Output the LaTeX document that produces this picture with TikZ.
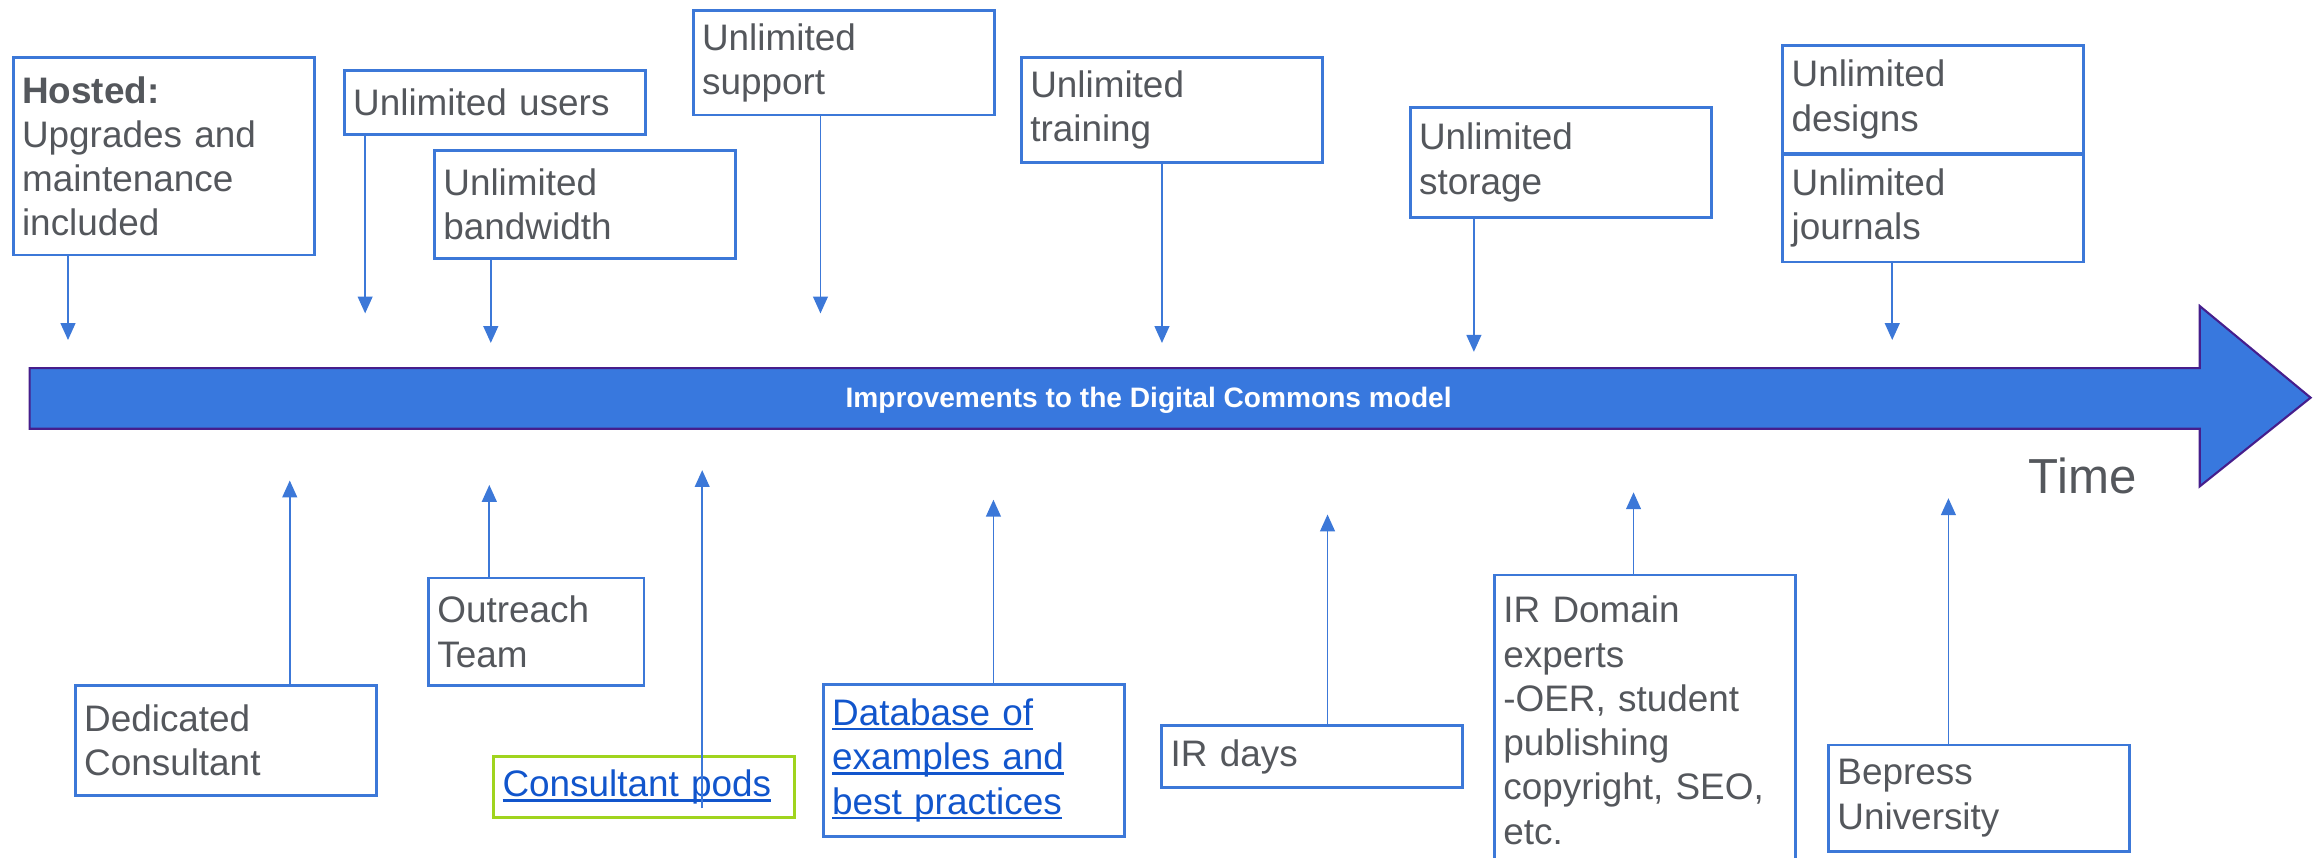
\documentclass[tikz,border=0pt]{standalone}
\usepackage{fontspec}
\setmainfont{Liberation Sans}
\usetikzlibrary{arrows.meta,calc}
\definecolor{boxblue}{RGB}{60,120,216}
\definecolor{arrowfill}{RGB}{56,120,222}
\definecolor{arrowline}{RGB}{70,30,140}
\definecolor{txtgray}{RGB}{84,87,92}
\definecolor{linkblue}{RGB}{17,85,204}
\definecolor{podgreen}{RGB}{160,212,30}
\newcommand\lnk[1]{\leavevmode\setbox0\hbox{#1}\rlap{\rule[-1.4pt]{\wd0}{0.7pt}}\box0}
\begin{document}
\begin{tikzpicture}[x=0.014783cm, y=-0.014783cm,
  bx/.style={draw=boxblue, line width=0.8pt, text=txtgray,
    font=\fontsize{10.5}{12.6}\selectfont, align=left,
    inner xsep=2.5pt, inner ysep=1pt, anchor=north west,
    minimum width=85.62pt, text width=80.6pt},
  conn/.style={draw=boxblue, line width=0.5pt, -{Triangle[length=4.8pt,width=4.2pt]}},
  lnktxt/.style={text=linkblue}]
\useasboundingbox (0,0) rectangle (1568,580);

% main arrow
\path[fill=arrowfill, draw=arrowline, line width=0.6pt, line join=miter]
  (20,249) -- (1488,249) -- (1488,207) -- (1563,269) -- (1488,329) -- (1488,290) -- (20,290) -- cycle;
\node[text=white, font=\fontsize{8}{9.6}\selectfont\bfseries] (mainlabel) at (777,270.5) {Improvements to the Digital Commons model};
\node[text=txtgray, font=\fontsize{14}{16}\selectfont, anchor=base west, inner sep=0pt] (time) at (1372,334) {Time};

% top boxes
\node[bx, minimum height=56.2pt] (hosted) at (8,38) {\textbf{Hosted:}\\Upgrades and\\maintenance\\included};
\node[bx, minimum height=18pt] (users) at (232,47) {Unlimited users};
\node[bx, minimum height=30.6pt] (bandwidth) at (293,101) {Unlimited\\bandwidth};
\node[bx, minimum height=29.8pt] (support) at (468,6) {Unlimited\\support};
\node[bx, minimum height=29.8pt] (training) at (690,38) {Unlimited\\training};
\node[bx, minimum height=31.1pt] (storage) at (953,72) {Unlimited\\storage};
\node[bx, minimum height=30.6pt] (designs) at (1205,30) {Unlimited\\designs};
\node[bx, minimum height=30.6pt] (journals) at (1205,103.5) {Unlimited\\journals};

% bottom boxes
\node[bx, minimum height=31.1pt] (dedicated) at (50,463) {Dedicated\\Consultant};
\node[bx, minimum height=30.6pt, minimum width=61.28pt, text width=56.3pt] (outreach) at (289,390) {Outreach\\Team};
\node[bx, draw=podgreen, lnktxt, minimum height=17.2pt] (pods) at (333,511) {\lnk{Consultant pods}};
\node[bx, lnktxt, minimum height=43.2pt] (database) at (556,462) {\lnk{Database of}\\\lnk{examples and}\\\lnk{best practices}};
\node[bx, minimum height=17.6pt] (irdays) at (785,490) {IR days};
\node[bx, minimum height=82.7pt] (irdomain) at (1010,388) {IR Domain\\experts\\-OER, student\\publishing\\copyright, SEO,\\etc.};
\node[bx, minimum height=30.2pt] (bepress) at (1236,503) {Bepress\\University};

% connector ends
\coordinate (tHosted) at (46,230);
\coordinate (tUsers) at (247,212);
\coordinate (tBand) at (332,232);
\coordinate (tSupport) at (555,212);
\coordinate (tTraining) at (786,232);
\coordinate (tStorage) at (997,238);
\coordinate (tJournals) at (1280,230);
\coordinate (tDedicated) at (196,325);
\coordinate (tOutreach) at (331,328);
\coordinate (tPods) at (475,318);
\coordinate (tDatabase) at (672,338);
\coordinate (tIRdays) at (898,348);
\coordinate (tIRdomain) at (1105,333);
\coordinate (tBepress) at (1318,337);

\draw[conn] (hosted.south -| tHosted) -- (tHosted);
\draw[conn] (users.south -| tUsers) -- (tUsers);
\draw[conn] (bandwidth.south -| tBand) -- (tBand);
\draw[conn] (support.south -| tSupport) -- (tSupport);
\draw[conn] (training.south -| tTraining) -- (tTraining);
\draw[conn] (storage.south -| tStorage) -- (tStorage);
\draw[conn] (journals.south -| tJournals) -- (tJournals);
\draw[conn] (dedicated.north -| tDedicated) -- (tDedicated);
\draw[conn] (outreach.north -| tOutreach) -- (tOutreach);
\draw[conn] ($(pods.south -| tPods)+(0,-7)$) -- (tPods);
\draw[conn] (database.north -| tDatabase) -- (tDatabase);
\draw[conn] (irdays.north -| tIRdays) -- (tIRdays);
\draw[conn] (irdomain.north -| tIRdomain) -- (tIRdomain);
\draw[conn] (bepress.north -| tBepress) -- (tBepress);
\end{tikzpicture}
\end{document}
